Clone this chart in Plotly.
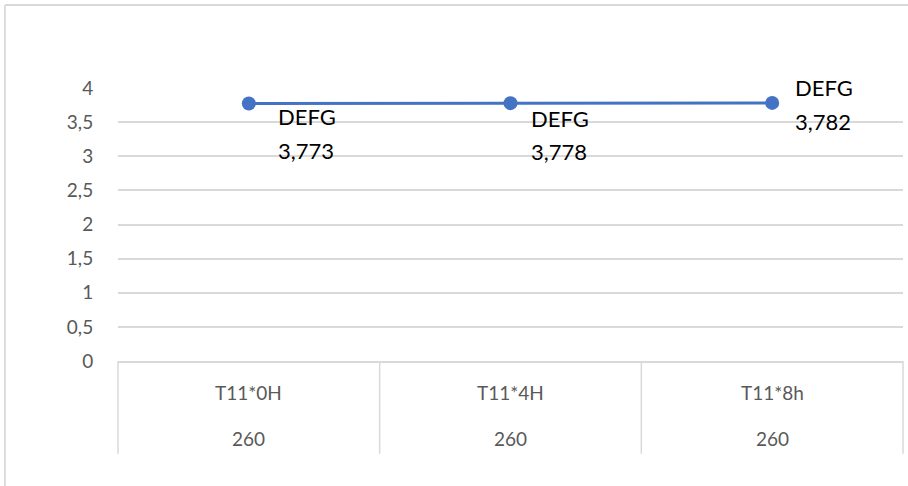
import plotly.graph_objects as go

categories = ["T11*0H", "T11*4H", "T11*8h"]
group_labels = ["260", "260", "260"]
values = [3.773, 3.778, 3.782]
point_tags = ["DEFG", "DEFG", "DEFG"]

# label offsets (px) relative to each point: (xshift, tag yshift, value yshift)
label_offsets = [(27, -13, -47), (18, -15, -48), (21, 15, -19)]

FONT = "Lato"
GRID = "#d9d9d9"
TICK = "#595959"

fig = go.Figure()
fig.add_trace(go.Scatter(
    x=categories, y=values, mode="lines+markers",
    line=dict(color="#4472C4", width=3),
    marker=dict(color="#4472C4", size=14),
    hoverinfo="skip", showlegend=False,
))

annotations = []
for c, v, t, (xs, ys1, ys2) in zip(categories, values, point_tags, label_offsets):
    annotations.append(dict(x=c, y=v, xref="x", yref="y", text=t, showarrow=False,
                            xanchor="left", yanchor="middle", xshift=xs, yshift=ys1,
                            font=dict(family=FONT, size=22, color="#000000")))
    annotations.append(dict(x=c, y=v, xref="x", yref="y",
                            text=f"{v:.3f}".replace(".", ","), showarrow=False,
                            xanchor="left", yanchor="middle", xshift=xs, yshift=ys2,
                            font=dict(family=FONT, size=22, color="#000000")))
for c, g in zip(categories, group_labels):
    annotations.append(dict(x=c, y=0, xref="x", yref="y", text=c, showarrow=False,
                            xanchor="center", yanchor="middle", yshift=-31,
                            font=dict(family=FONT, size=19, color=TICK)))
    annotations.append(dict(x=c, y=0, xref="x", yref="y", text=g, showarrow=False,
                            xanchor="center", yanchor="middle", yshift=-77,
                            font=dict(family=FONT, size=19, color=TICK)))

n = len(categories)
shapes = []
for i in range(n + 1):
    shapes.append(dict(type="line", xref="paper", yref="paper",
                       x0=i / n, x1=i / n, y0=0, y1=-0.34,
                       line=dict(color=GRID, width=1.5)))
# outer chart border (top + left)
shapes.append(dict(type="line", xref="paper", yref="paper", x0=-0.144, x1=1.01,
                   y0=1.304, y1=1.304, line=dict(color=GRID, width=1.8)))
shapes.append(dict(type="line", xref="paper", yref="paper", x0=-0.144, x1=-0.144,
                   y0=1.304, y1=-0.5, line=dict(color=GRID, width=1.8)))

fig.update_layout(
    width=908, height=486,
    margin=dict(l=118, r=5, t=88, b=125),
    paper_bgcolor="white", plot_bgcolor="white",
    separators=", ",
    font=dict(family=FONT, size=19, color=TICK),
    annotations=annotations, shapes=shapes,
    xaxis=dict(type="category", range=[-0.5, n - 0.5], showticklabels=False,
               showgrid=False, zeroline=False, showline=True, linecolor=GRID,
               linewidth=1.5, ticks=""),
    yaxis=dict(range=[0, 4], dtick=0.5, tick0=0, showgrid=True, gridcolor=GRID,
               gridwidth=1.5, zeroline=False, showline=False,
               ticks="outside", ticklen=20, tickcolor="rgba(0,0,0,0)",
               tickfont=dict(family=FONT, size=19, color=TICK)),
)

fig.write_html("out.html", config={"displayModeBar": False},
               post_script="document.body.style.margin='0';document.body.style.overflow='hidden';")
